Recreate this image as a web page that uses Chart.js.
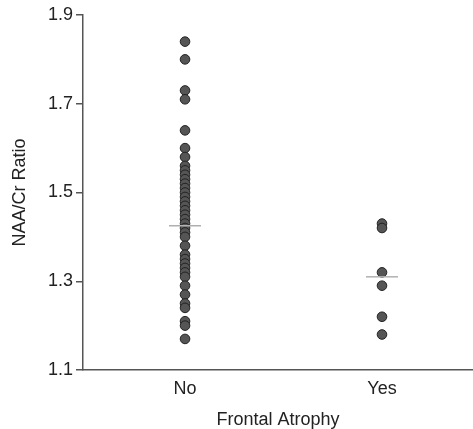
<!DOCTYPE html>
<html>
<head>
<meta charset="utf-8">
<script src="https://cdn.jsdelivr.net/npm/chart.js@4.4.0/dist/chart.umd.min.js"></script>
<style>
    html, body { margin: 0; padding: 0; background: #fff; overflow: hidden; }
    #wrap { width: 473px; height: 429px; }
</style>
</head>
<body>
<div id="wrap"><canvas id="stripChart"></canvas></div>
<script>
// Groups and values
const groups = ['No', 'Yes'];
const ratioNo = [1.84, 1.80, 1.73, 1.71, 1.64, 1.60, 1.58, 1.56, 1.55, 1.54, 1.53, 1.52,
    1.51, 1.50, 1.49, 1.48, 1.47, 1.46, 1.45, 1.44, 1.43, 1.42, 1.41, 1.40, 1.38,
    1.36, 1.35, 1.34, 1.33, 1.32, 1.31, 1.29, 1.27, 1.25, 1.24, 1.21, 1.20, 1.17];
const ratioYes = [1.43, 1.42, 1.32, 1.29, 1.22, 1.18];
const groupMeans = [1.425, 1.31];
const yTicks = [1.1, 1.3, 1.5, 1.7, 1.9];

document.addEventListener('DOMContentLoaded', function() {
    Chart.defaults.font.family = '"Liberation Sans", Arial, sans-serif';
    Chart.defaults.font.size = 18;
    Chart.defaults.color = '#222';
    drawChart(document.getElementById('stripChart'));
});

function drawChart(canvas) {
    const points = [];
    ratioNo.forEach(function(v) { points.push({ x: 0, y: v }); });
    ratioYes.forEach(function(v) { points.push({ x: 1, y: v }); });
    const means = groupMeans.map(function(v, i) { return { x: i, y: v }; });

    // keep the plot area edges fixed (no extra room for end labels)
    const noEdgePadding = function(scale) {
        scale.paddingLeft = 0;
        scale.paddingRight = 0;
        scale.paddingTop = 0;
        scale.paddingBottom = 0;
    };

    new Chart(canvas, {
        type: 'scatter',
        data: {
            datasets: [{
                label: 'Mean',
                data: means,
                pointStyle: 'line',
                pointRadius: 16,
                pointHoverRadius: 16,
                borderColor: '#b0b0b0',
                borderWidth: 1.5
            }, {
                label: 'NAA/Cr',
                data: points,
                pointRadius: 4.8,
                pointBorderWidth: 1,
                backgroundColor: '#555555',
                borderColor: '#222222'
            }]
        },
        options: {
            animation: false,
            responsive: true,
            maintainAspectRatio: false,
            layout: {
                autoPadding: false,
                padding: { left: 0, right: 0, top: 15, bottom: 0 }
            },
            plugins: {
                legend: { display: false },
                tooltip: { enabled: false }
            },
            scales: {
                x: {
                    type: 'linear',
                    min: -0.518,
                    max: 1.462,
                    afterBuildTicks: function(scale) {
                        scale.ticks = groups.map(function(g, i) { return { value: i }; });
                    },
                    afterFit: function(scale) {
                        scale.height = 59;
                        noEdgePadding(scale);
                    },
                    ticks: {
                        padding: 0,
                        font: { size: 18 },
                        callback: function(value) { return groups[value]; }
                    },
                    grid: { display: false, tickLength: 8 },
                    border: { display: true, color: '#555', width: 1.5 },
                    title: {
                        display: true,
                        text: 'Frontal Atrophy',
                        font: { size: 18 },
                        padding: { top: 6, bottom: -2 }
                    }
                },
                y: {
                    min: 1.1,
                    max: 1.9,
                    afterBuildTicks: function(scale) {
                        scale.ticks = yTicks.map(function(v) { return { value: v }; });
                    },
                    afterFit: function(scale) {
                        scale.width = 83;
                        noEdgePadding(scale);
                    },
                    ticks: {
                        padding: 3,
                        font: { size: 18 },
                        callback: function(value) { return value.toFixed(1); }
                    },
                    grid: {
                        display: true,
                        drawOnChartArea: false,
                        drawTicks: true,
                        tickLength: 7,
                        color: '#555',
                        lineWidth: 1.5
                    },
                    border: { display: true, color: '#555', width: 1.5 },
                    title: {
                        display: true,
                        text: 'NAA/Cr Ratio',
                        font: { size: 18 },
                        padding: { top: 9, bottom: 0 }
                    }
                }
            }
        }
    });
}
</script>
</body>
</html>
